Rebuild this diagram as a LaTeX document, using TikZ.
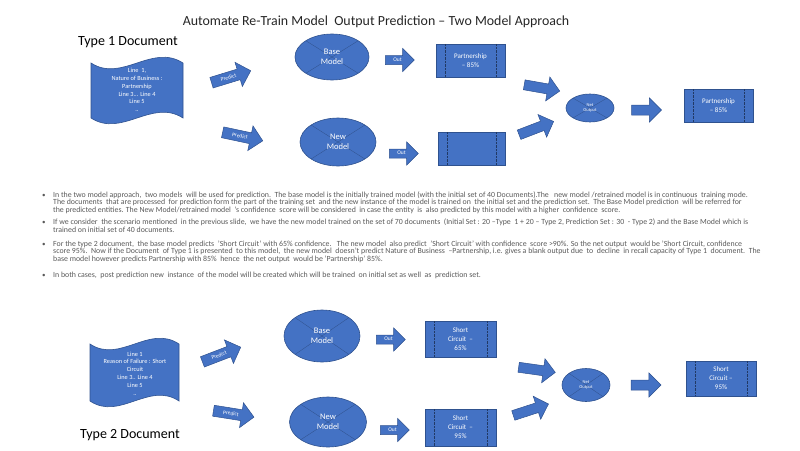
\documentclass[tikz,border=0pt]{standalone}
\usepackage{fontspec}
\setmainfont{Carlito}
\usetikzlibrary{shapes.geometric,shapes.arrows,calc}
\definecolor{fillblue}{RGB}{68,114,196}
\definecolor{edgeblue}{RGB}{47,82,143}
\definecolor{bodygray}{RGB}{89,89,89}
\definecolor{titleink}{RGB}{38,38,38}

\begin{document}
\begin{tikzpicture}[x=1pt,y=-1pt,
  model/.style={ellipse, draw=edgeblue, fill=fillblue, line width=0.6pt,
    inner sep=0pt, outer sep=0pt},
  modeltext/.style={text=white, align=center, inner sep=0pt,
    font=\fontsize{8.5}{10.5}\selectfont},
  smalltext/.style={modeltext, font=\fontsize{4.5}{5.5}\selectfont},
  xline/.style={draw=edgeblue!80!black, line width=0.3pt, opacity=0.7},
  procbox/.style={rectangle, draw=edgeblue, fill=fillblue, line width=0.6pt,
    inner sep=0pt, outer sep=0pt, text=white, align=center,
    font=\fontsize{7}{9}\selectfont},
  innerrule/.style={draw=edgeblue!70!black, line width=0.4pt, densely dotted},
  blockarrow/.style={single arrow, draw=edgeblue, fill=fillblue, line width=0.5pt,
    inner xsep=1pt, inner ysep=0.5pt, outer sep=0pt, text=white,
    single arrow tip angle=90, anchor=center, font=\fontsize{5.5}{5.5}\selectfont},
  predictarrow/.style={blockarrow, minimum height=41pt, minimum width=21pt,
    text height=6.5pt, text depth=3pt},
  outarrow/.style={blockarrow, minimum height=29pt, minimum width=15pt,
    text height=5pt, text depth=2.5pt},
  plainarrow/.style={blockarrow, minimum height=#1, minimum width=17pt,
    text height=5.5pt, text depth=3pt},
  doctext/.style={text=white, align=center, font=\fontsize{6.3}{7.8}\selectfont},
  docwave/.style={fill=fillblue, draw=edgeblue, line width=0.6pt},
  headline/.style={text=titleink, font=\fontsize{13.9}{16}\selectfont},
  doclabel/.style={text=black, font=\fontsize{14}{16}\selectfont},
  bodyline/.style={anchor=base west, inner sep=0pt, text=bodygray,
    font=\fontsize{7.85}{8}\selectfont},
  bulletmark/.style={anchor=base west, inner sep=0pt, text=bodygray,
    font=\fontsize{7}{8}\selectfont},
]
\useasboundingbox (0,0) rectangle (800,450);

% ---------- headings ----------
\node[headline] (title) at (376,22) {Automate Re-Train Model\ \ Output Prediction -- Two Model Approach};
\node[doclabel] (type1) at (128,42) {Type 1 Document};
\node[doclabel] (type2) at (130,435) {Type 2 Document};

% ---------- Type 1 document ----------
\path[docwave] (91,63) .. controls (122,83) and (152,43) .. (183,63)
  -- (183,118) .. controls (152,98) and (122,138) .. (91,118) -- cycle;
\node[doctext] (doc1) at (137,90) {Line\ \ 1,\\Nature of Business :\\Partnership\\Line 3... Line 4\\Line 5\\..};

\node[predictarrow, rotate=17] (p1) at (228.5,77.5) {Predict};
\node[predictarrow, rotate=-12] (p2) at (240,136) {Predict};

\node[model, minimum width=74pt, minimum height=46pt] (bm1) at (332,57) {};
\node[model, minimum width=76pt, minimum height=48pt] (nm1) at (338,142) {};
\draw[xline] (bm1.north west) -- (bm1.south east) (bm1.north east) -- (bm1.south west);
\draw[xline] (nm1.north west) -- (nm1.south east) (nm1.north east) -- (nm1.south west);
\node[modeltext] (bm1t) at (bm1) {Base\\Model};
\node[modeltext] (nm1t) at (nm1) {New\\Model};

\node[outarrow] (o1) at (397.5,60) {Out};
\node[outarrow] (o2) at (401.5,153.5) {Out};

\node[procbox, minimum width=69pt, minimum height=33pt] (b1) at (470.5,60.5) {Partnership\\-- 85\%};
\node[procbox, minimum width=67pt, minimum height=33pt] (b2) at (471.5,148.5) {};
\foreach \b in {b1,b2}{
  \draw[innerrule] ($(\b.north west)+(9,0)$) -- ($(\b.south west)+(9,0)$);
  \draw[innerrule] ($(\b.north east)+(-9,0)$) -- ($(\b.south east)+(-9,0)$);
}

\node[plainarrow=36pt, rotate=-10] (a1) at (539.5,87.5) {};
\node[plainarrow=37pt, rotate=21] (a2) at (534,129) {};

\node[model, minimum width=48pt, minimum height=28pt] (no1) at (590,108) {};
\draw[xline] (no1.north west) -- (no1.south east) (no1.north east) -- (no1.south west);
\node[smalltext] (no1t) at (no1) {Net\\Output};

\node[plainarrow=30pt, minimum width=15pt] (a3) at (644,110) {};

\node[procbox, minimum width=69pt, minimum height=33pt] (f1) at (718.5,105.5) {Partnership\\-- 85\%};
\draw[innerrule] ($(f1.north west)+(9,0)$) -- ($(f1.south west)+(9,0)$);
\draw[innerrule] ($(f1.north east)+(-9,0)$) -- ($(f1.south east)+(-9,0)$);

% ---------- notes ----------
\node[bulletmark] (m1) at (42,197) {•};
\node[bodyline] (t11) at (53,197) {In the two model approach,\ \ two models\ \ will be used for prediction.\ \ The base model is the initially trained model (with the initial set of 40 Documents).The\ \ \ new model /retrained model is in continuous\ \ training mode.};
\node[bodyline] (t12) at (53,204.5) {The documents\ \ that are processed\ \ for prediction form the part of the training set\ \ and the new instance of the model is trained on\ \ the initial set and the prediction set.\ \ The Base Model prediction\ \ will be referred for};
\node[bodyline] (t13) at (53,212) {the predicted entities. The New Model/retrained model\ \ 's confidence\ \ score will be considered\ \ in case the entity\ \ is\ \ also predicted by this model with a higher\ \ confidence\ \ score.};

\node[bulletmark] (m2) at (42,224.5) {•};
\node[bodyline] (t21) at (53,224.5) {If we consider\ \ the scenario mentioned\ \ in the previous slide,\ \ we have the new model trained on the set of 70 documents\ \ (Initial Set : 20 --Type\ \ 1 + 20 -- Type 2, Prediction Set : 30\ \ - Type 2) and the Base Model which is};
\node[bodyline] (t22) at (53,232) {trained on initial set of 40 documents.};

\node[bulletmark] (m3) at (42,246) {•};
\node[bodyline] (t31) at (53,246) {For the type 2 document,\ \ the base model predicts\ \ 'Short Circuit' with 65\% confidence.\ \ \ The new model\ \ also predict\ \ 'Short Circuit' with confidence\ \ score >90\%. So the net output\ \ would be 'Short Circuit, confidence};
\node[bodyline] (t32) at (53,253.5) {score 95\%.\ \ Now if the Document\ \ of Type 1 is presented\ \ to this model,\ \ the new model\ \ doesn't predict Nature of Business\ \ --Partnership, i.e. gives a blank output due\ \ to\ \ decline\ \ in recall capacity of Type 1\ \ document.\ \ The};
\node[bodyline] (t33) at (53,261) {base model however predicts Partnership with 85\%\ \ hence\ \ the net output\ \ would be 'Partnership' 85\%.};

\node[bulletmark] (m4) at (42,277) {•};
\node[bodyline] (t41) at (53,277) {In both cases,\ \ post prediction new\ \ instance\ \ of the model will be created which will be trained\ \ on initial set as well\ \ as\ \ prediction set.};

% ---------- Type 2 document ----------
\path[docwave] (90,344) .. controls (120,364) and (149,324) .. (179,344)
  -- (179,401) .. controls (149,381) and (120,421) .. (90,401) -- cycle;
\node[doctext] (doc2) at (135,373.5) {Line 1\\Reason of Failure : Short\\Circuit\\Line 3.. Line 4\\Line 5\\..};

\node[predictarrow, rotate=21] (p3) at (219,355.5) {Predict};
\node[predictarrow, rotate=-9] (p4) at (231,413.5) {Predict};

\node[model, minimum width=76pt, minimum height=52pt] (bm2) at (322,336) {};
\node[model, minimum width=77pt, minimum height=50pt] (nm2) at (328,422) {};
\draw[xline] (bm2.north west) -- (bm2.south east) (bm2.north east) -- (bm2.south west);
\draw[xline] (nm2.north west) -- (nm2.south east) (nm2.north east) -- (nm2.south west);
\node[modeltext] (bm2t) at (bm2) {Base\\Model};
\node[modeltext] (nm2t) at (nm2) {New\\Model};

\node[outarrow] (o3) at (388.5,339.5) {Out};
\node[outarrow] (o4) at (392.5,430) {Out};

\node[procbox, minimum width=71pt, minimum height=36pt] (b3) at (460.5,339) {Short\\Circuit\ \ --\\65\%};
\node[procbox, minimum width=71pt, minimum height=37pt] (b4) at (460.5,427.5) {Short\\Circuit\ \ --\\95\%};
\foreach \b in {b3,b4}{
  \draw[innerrule] ($(\b.north west)+(9,0)$) -- ($(\b.south west)+(9,0)$);
  \draw[innerrule] ($(\b.north east)+(-9,0)$) -- ($(\b.south east)+(-9,0)$);
}

\node[plainarrow=37pt, rotate=-8] (a4) at (534.5,369.5) {};
\node[plainarrow=37pt, rotate=18] (a5) at (528.5,410.5) {};

\node[model, minimum width=48pt, minimum height=33pt] (no2) at (586,385) {};
\draw[xline] (no2.north west) -- (no2.south east) (no2.north east) -- (no2.south west);
\node[smalltext] (no2t) at (no2) {Net\\Output};

\node[plainarrow=30pt, minimum width=16pt] (a6) at (643.5,385) {};

\node[procbox, minimum width=70pt, minimum height=35pt] (f2) at (721,378.5) {Short\\Circuit --\\95\%};
\draw[innerrule] ($(f2.north west)+(9,0)$) -- ($(f2.south west)+(9,0)$);
\draw[innerrule] ($(f2.north east)+(-9,0)$) -- ($(f2.south east)+(-9,0)$);
\end{tikzpicture}
\end{document}
